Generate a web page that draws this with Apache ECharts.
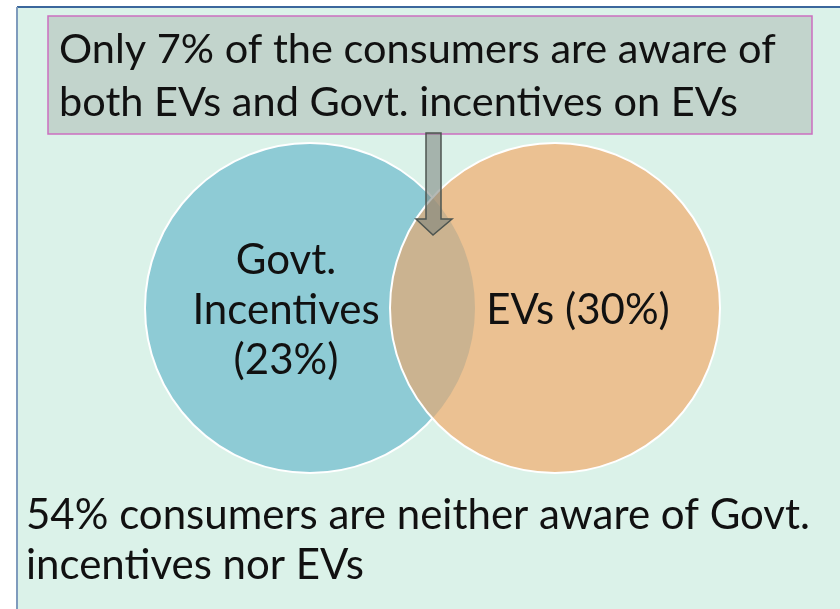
<!DOCTYPE html>
<html>
<head>
<meta charset="utf-8">
<script src="https://cdn.jsdelivr.net/npm/echarts@6/dist/echarts.min.js"></script>
<style>
  html, body { margin: 0; padding: 0; background: #ffffff; }
  #container { width: 840px; height: 609px; }
</style>
</head>
<body>
<div id="container"></div>
<script>
// awareness shares (percent of consumers)
const setNames = ['Govt.\nIncentives', 'EVs'];
const setValues = [23, 30];
const bothValue = 7;
const neitherValue = 54;

const calloutLines = ['Only ' + bothValue + '% of the consumers are aware of', 'both EVs and Govt. incentives on EVs'];
const footLines = [neitherValue + '% consumers are neither aware of Govt.', 'incentives nor EVs'];

// layout of the two circles in page pixels (axis space = page space)
const layout = {
    centers: [[310, 308], [555, 308]],
    radius: 165,
    labelShift: [-24, 23]
};
const colors = ['#8ecbd5', '#ebc192'];
const lensColor = '#cbb390';
const font = 'Lato';

(function () {
    const dom = document.getElementById('container');
    const myChart = echarts.init(dom, null, { renderer: 'canvas' });

    // one data item per set: [cx, cy, r, value]
    const circleData = setValues.map((v, i) => [layout.centers[i][0], layout.centers[i][1], layout.radius, v]);

    const renderVenn = function (params, api) {
        const c = circleData.map(d => {
            const p = api.coord([d[0], d[1]]);
            const r = api.size([d[2], 0])[0];
            return { x: p[0], y: p[1], r: r };
        });
        // lens of the overlap
        const a = (c[1].x - c[0].x) / 2;
        const h = Math.sqrt(c[0].r * c[0].r - a * a);
        const mx = c[0].x + a, my = c[0].y;
        const lens = 'M' + mx + ' ' + (my - h) +
            ' A' + c[1].r + ' ' + c[1].r + ' 0 0 0 ' + mx + ' ' + (my + h) +
            ' A' + c[0].r + ' ' + c[0].r + ' 0 0 0 ' + mx + ' ' + (my - h) + ' Z';

        const labelStyle = { fontFamily: font, fontSize: 42, lineHeight: 50, fill: '#111', align: 'center', verticalAlign: 'middle' };
        return {
            type: 'group',
            children: [
                { type: 'circle', shape: { cx: c[0].x, cy: c[0].y, r: c[0].r }, style: { fill: colors[0], stroke: '#ffffff', lineWidth: 2 } },
                { type: 'circle', shape: { cx: c[1].x, cy: c[1].y, r: c[1].r }, style: { fill: colors[1] } },
                { type: 'path', shape: { pathData: lens }, style: { fill: lensColor } },
                { type: 'circle', shape: { cx: c[1].x, cy: c[1].y, r: c[1].r }, style: { fill: 'none', stroke: '#ffffff', lineWidth: 2 } },
                { type: 'text', x: c[0].x + layout.labelShift[0], y: c[0].y + 2,
                  style: Object.assign({ text: setNames[0] + '\n(' + setValues[0] + '%)' }, labelStyle) },
                { type: 'text', x: c[1].x + layout.labelShift[1], y: c[1].y + 2,
                  style: Object.assign({ text: setNames[1] + ' (' + setValues[1] + '%)' }, labelStyle) }
            ]
        };
    };

    const option = {
        animation: false,
        grid: { left: 0, right: 0, top: 0, bottom: 0 },
        xAxis: { type: 'value', min: 0, max: 840, show: false },
        yAxis: { type: 'value', min: 0, max: 609, inverse: true, show: false },
        graphic: [
            // slide background and frame
            { type: 'rect', z: -10, shape: { x: 17, y: 7, width: 823, height: 602 }, style: { fill: '#dbf2e9' } },
            { type: 'line', z: -9, shape: { x1: 17, y1: 7, x2: 840, y2: 7 }, style: { stroke: '#3b679c', lineWidth: 2 } },
            { type: 'line', z: -9, shape: { x1: 17, y1: 7, x2: 17, y2: 609 }, style: { stroke: '#7f9bbd', lineWidth: 2 } },
            // callout box
            { type: 'rect', z: 5, shape: { x: 48, y: 16, width: 764, height: 118 }, style: { fill: 'rgba(188,204,196,0.8)', stroke: '#cc6fc0', lineWidth: 1.5 } },
            { type: 'text', z: 6, x: 59, y: 50, style: { text: calloutLines[0], fontFamily: font, fontSize: 41.5, fill: '#111', verticalAlign: 'middle' } },
            { type: 'text', z: 6, x: 59, y: 103, style: { text: calloutLines[1], fontFamily: font, fontSize: 41.5, fill: '#111', verticalAlign: 'middle' } },
            // arrow pointing to the overlap
            { type: 'polygon', z: 20, shape: { points: [[426, 133], [441, 133], [441, 219], [452, 219], [433, 235], [416, 219], [426, 219]] },
              style: { fill: 'rgba(120,128,122,0.55)', stroke: '#4d5550', lineWidth: 1.5 } },
            // bottom note
            { type: 'text', z: 6, x: 26, y: 515, style: { text: footLines[0], fontFamily: font, fontSize: 42, fill: '#111', verticalAlign: 'middle' } },
            { type: 'text', z: 6, x: 26, y: 565, style: { text: footLines[1], fontFamily: font, fontSize: 42, fill: '#111', verticalAlign: 'middle' } }
        ],
        series: [
            {
                type: 'custom',
                coordinateSystem: 'cartesian2d',
                renderItem: function (params, api) {
                    // draw the whole diagram once
                    if (params.dataIndex !== 0) return null;
                    return renderVenn(params, api);
                },
                data: circleData,
                silent: true,
                z: 2
            }
        ]
    };

    myChart.setOption(option);
})();
</script>
</body>
</html>
